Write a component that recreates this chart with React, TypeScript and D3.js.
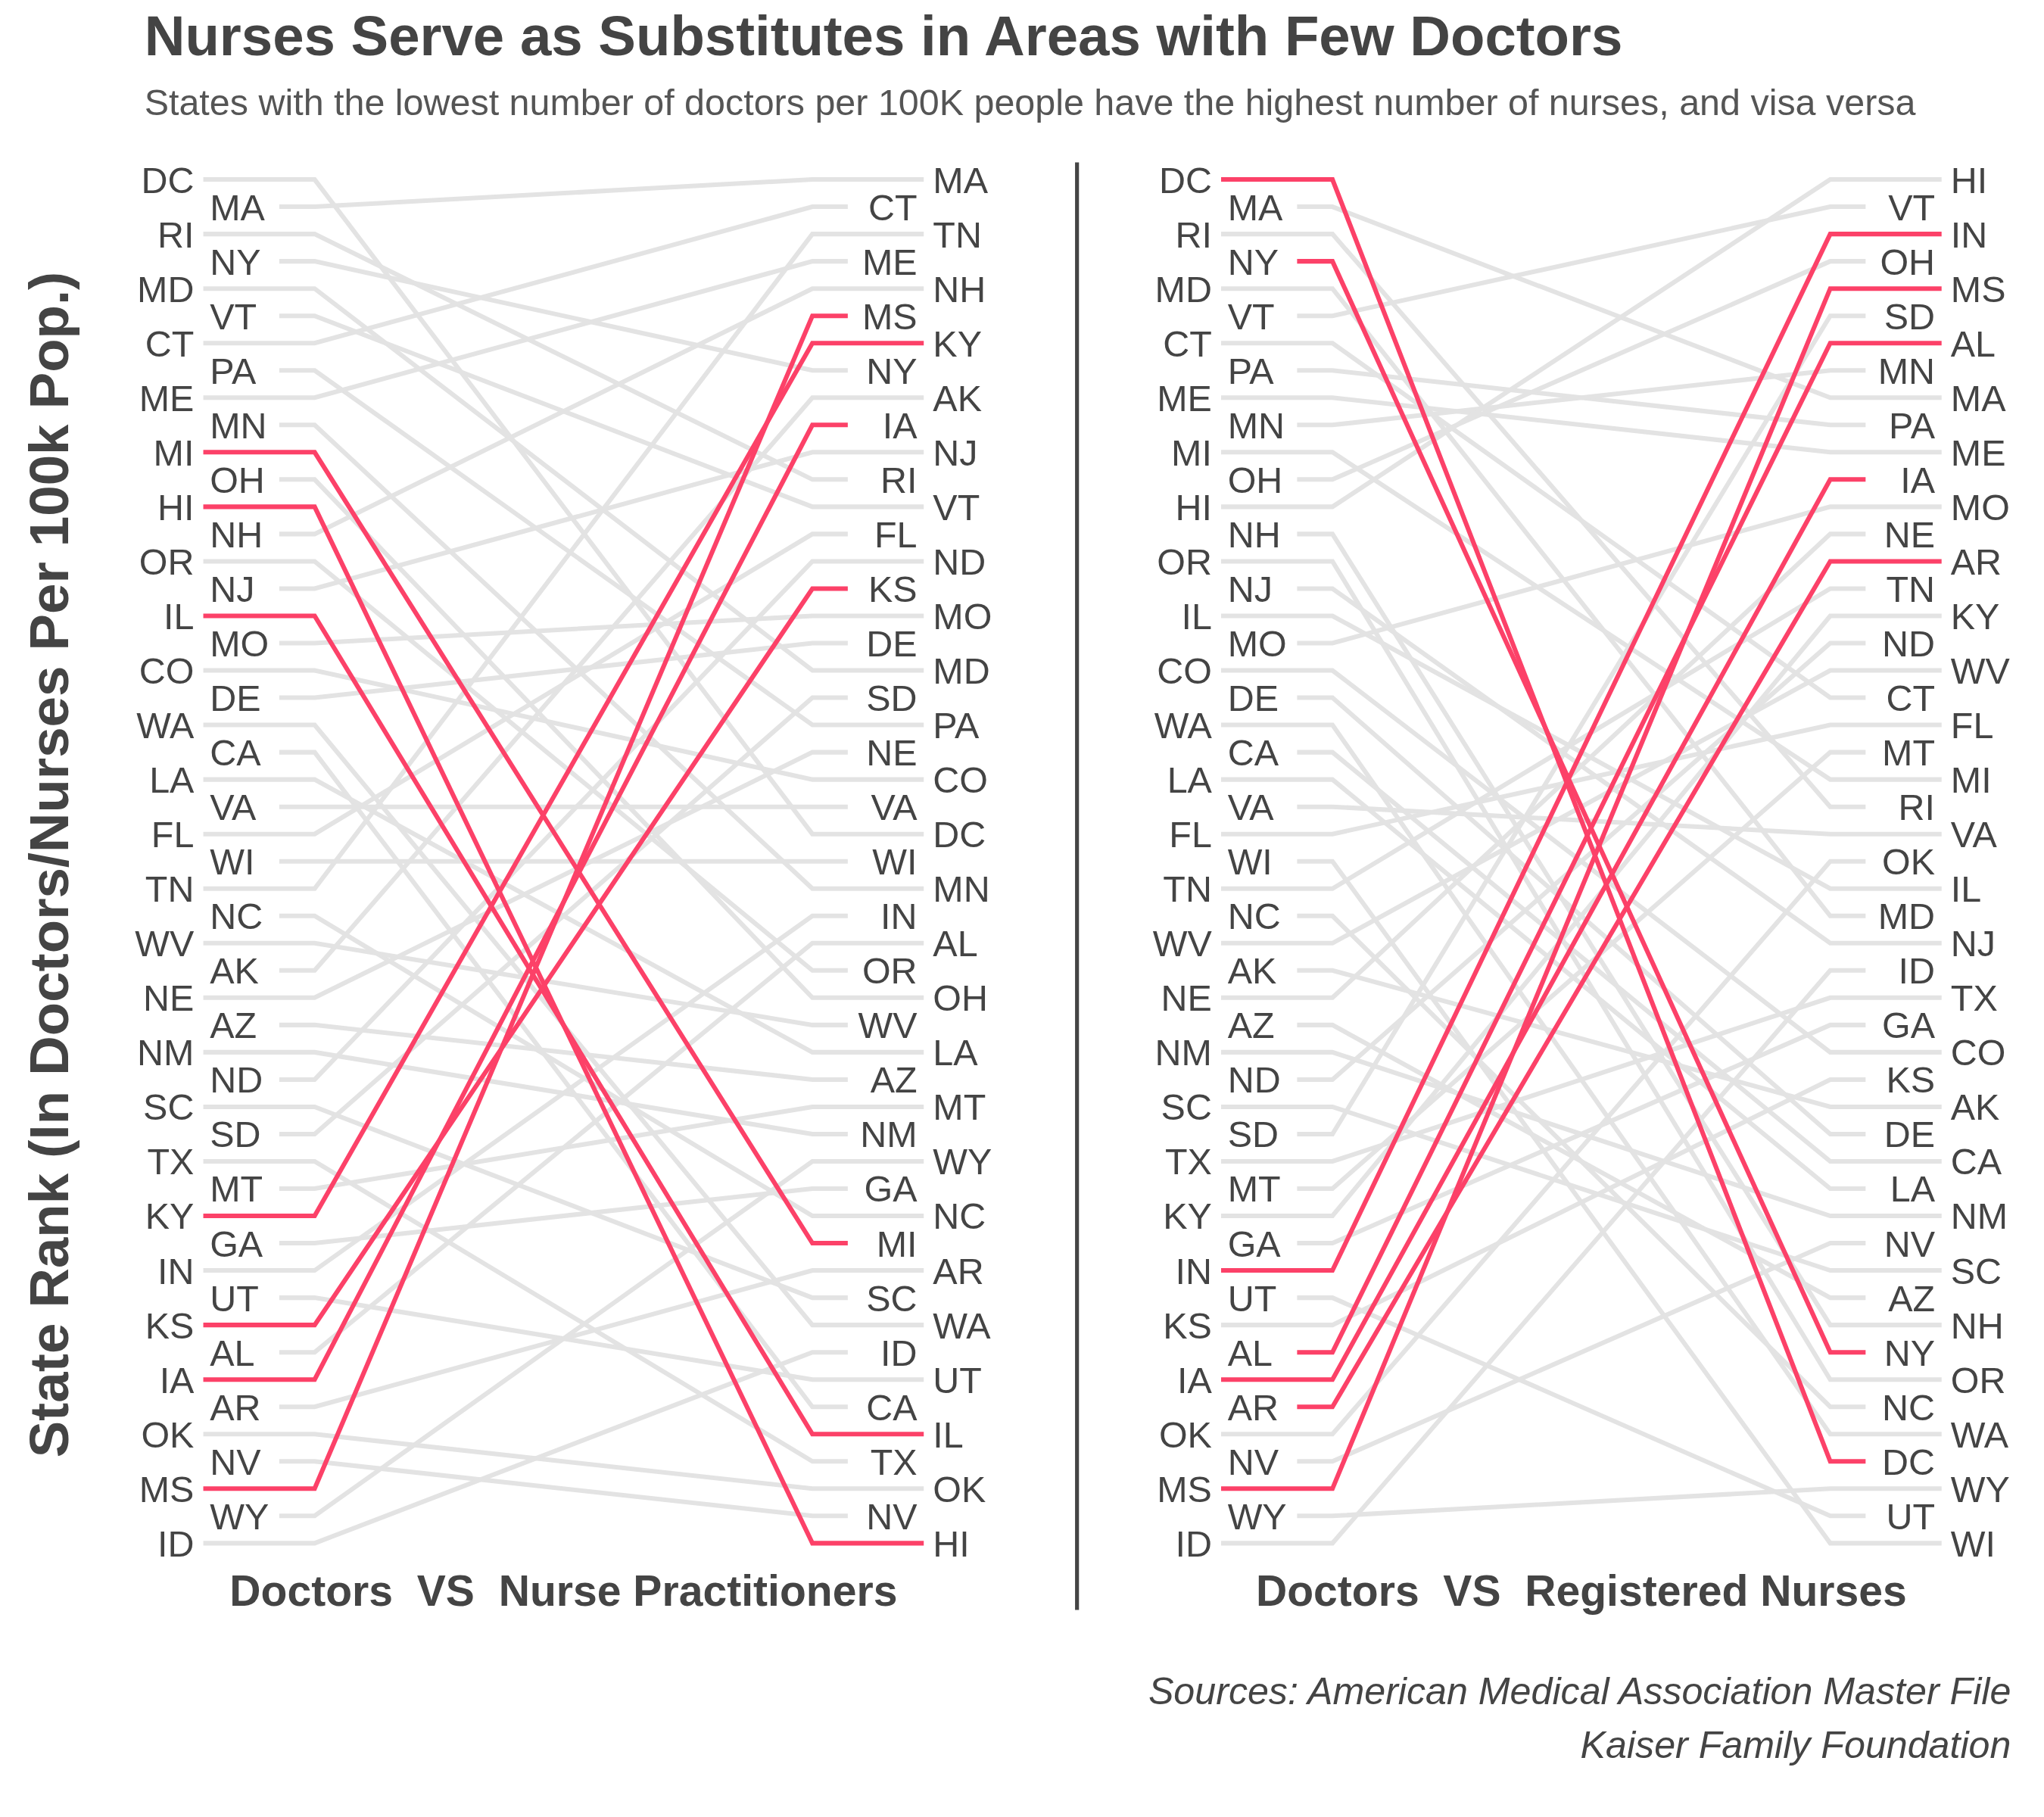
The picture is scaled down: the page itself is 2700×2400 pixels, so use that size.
import React from "react";
import * as d3 from "d3";

// rankings, highest per 100k first
const doctors = ["DC","MA","RI","NY","MD","VT","CT","PA","ME","MN","MI","OH","HI","NH","OR","NJ","IL","MO","CO","DE","WA","CA","LA","VA","FL","WI","TN","NC","WV","AK","NE","AZ","NM","ND","SC","SD","TX","MT","KY","GA","IN","UT","KS","AL","IA","AR","OK","NV","MS","WY","ID"];
const nursePractitioners = ["MA","CT","TN","ME","NH","MS","KY","NY","AK","IA","NJ","RI","VT","FL","ND","KS","MO","DE","MD","SD","PA","NE","CO","VA","DC","WI","MN","IN","AL","OR","OH","WV","LA","AZ","MT","NM","WY","GA","NC","MI","AR","SC","WA","ID","UT","CA","IL","TX","OK","NV","HI"];
const registeredNurses = ["HI","VT","IN","OH","MS","SD","AL","MN","MA","PA","ME","IA","MO","NE","AR","TN","KY","ND","WV","CT","FL","MT","MI","RI","VA","OK","IL","MD","NJ","ID","TX","GA","CO","KS","AK","DE","CA","LA","NM","NV","SC","AZ","NH","NY","OR","NC","WA","DC","WY","UT","WI"];
const highlightNP = ["MI","HI","IL","KY","KS","IA","MS"];
const highlightRN = ["DC","NY","IN","AL","IA","AR","MS"];

const GREY = "#e3e3e3";
const RED = "#fc4168";
const TEXT = "#444";
const FONT = "'Liberation Sans', Arial, Helvetica, sans-serif";

const y = d3.scaleLinear().domain([0, 50]).range([137, 1178]);

function Panel({ left, right, hl, x0, title }: { left: string[]; right: string[]; hl: string[]; x0: number; title: string }) {
  const xl = x0 + 240;
  const xr = x0 + 620;
  const rows = left.map((s) => ({ s, a: left.indexOf(s), b: right.indexOf(s) }));
  const ordered = [...rows.filter((r) => !hl.includes(r.s)), ...rows.filter((r) => hl.includes(r.s))];
  return (
    <g>
      {ordered.map((r) => {
        const lStart = r.a % 2 === 0 ? x0 + 155 : x0 + 213;
        const rEnd = r.b % 2 === 0 ? x0 + 705 : x0 + 647;
        const path = d3.line()([[lStart, y(r.a)], [xl, y(r.a)], [xr, y(r.b)], [rEnd, y(r.b)]]);
        const on = hl.includes(r.s);
        return <path key={r.s} d={path || ""} fill="none" stroke={on ? RED : GREY} strokeWidth={3.5} />;
      })}
      {left.map((s, i) => (
        <text key={"l" + s} x={i % 2 === 0 ? x0 + 148 : x0 + 160} y={y(i)} dy="0.36em" textAnchor={i % 2 === 0 ? "end" : "start"} fontSize={28} fill={TEXT}>{s}</text>
      ))}
      {right.map((s, i) => (
        <text key={"r" + s} x={i % 2 === 0 ? x0 + 712 : x0 + 700} y={y(i)} dy="0.36em" textAnchor={i % 2 === 0 ? "start" : "end"} fontSize={28} fill={TEXT}>{s}</text>
      ))}
      <text x={x0 + 430} y={1226} textAnchor="middle" fontSize={33} fontWeight="bold" fill={TEXT} style={{ whiteSpace: "pre" }}>{title}</text>
    </g>
  );
}

export default function App() {
  return (
    <svg width={2700} height={2400} viewBox="0 0 1560 1387" style={{ position: "absolute", left: 0, top: 0, background: "#fff" }} fontFamily={FONT}>
      <text x={110} y={42} fontSize={43} fontWeight="bold" fill={TEXT}>Nurses Serve as Substitutes in Areas with Few Doctors</text>
      <text x={110} y={88} fontSize={28} fill="#555">States with the lowest number of doctors per 100K people have the highest number of nurses, and visa versa</text>
      <text transform="translate(52,660) rotate(-90)" textAnchor="middle" fontSize={42} fontWeight="bold" fill={TEXT}>State Rank (In Doctors/Nurses Per 100k Pop.)</text>
      <Panel left={doctors} right={nursePractitioners} hl={highlightNP} x0={0} title={"Doctors  VS  Nurse Practitioners"} />
      <Panel left={doctors} right={registeredNurses} hl={highlightRN} x0={777} title={"Doctors  VS  Registered Nurses"} />
      <line x1={822} x2={822} y1={124} y2={1229} stroke={TEXT} strokeWidth={3} />
      <text x={1535} y={1301} textAnchor="end" fontSize={29} fontStyle="italic" fill={TEXT}>Sources: American Medical Association Master File</text>
      <text x={1535} y={1342} textAnchor="end" fontSize={29} fontStyle="italic" fill={TEXT}>Kaiser Family Foundation</text>
    </svg>
  );
}
